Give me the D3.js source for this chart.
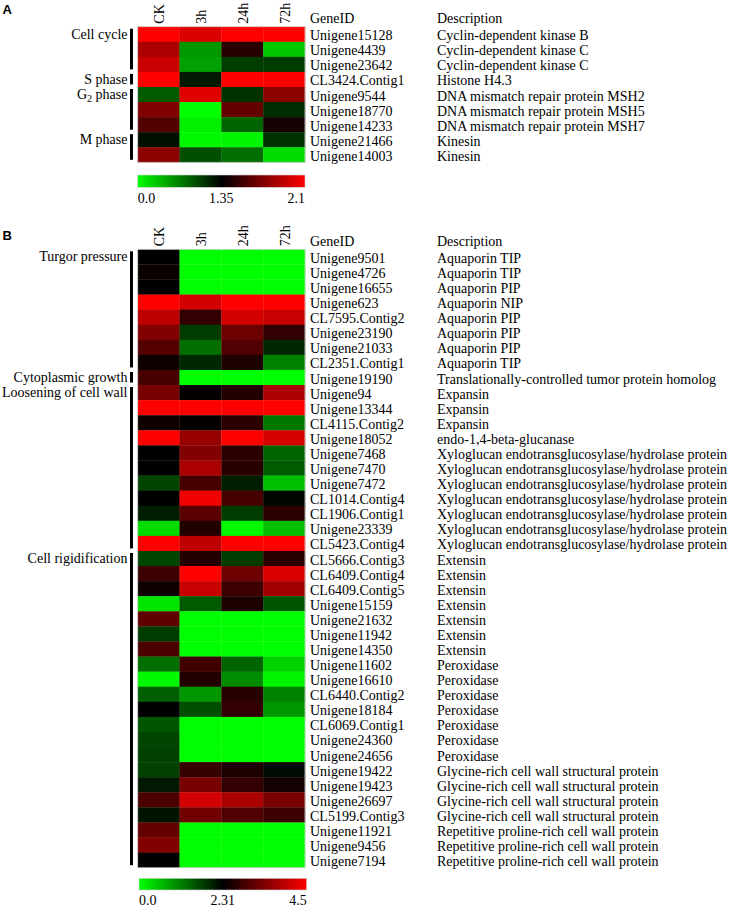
<!DOCTYPE html>
<html><head><meta charset="utf-8">
<script src="https://cdn.jsdelivr.net/npm/d3@7/dist/d3.min.js"></script>
<style>
body{margin:0;background:#fff}
svg text{font-family:"Liberation Serif","Times New Roman",serif;font-size:14px;fill:#000}
</style>
</head><body>
<svg id="chart" width="737" height="908"></svg>
<script>
// ---------------- DATA ----------------
const columns = ["CK", "3h", "24h", "72h"];

// Panel A
const geneIdsA = ["Unigene15128","Unigene4439","Unigene23642","CL3424.Contig1","Unigene9544","Unigene18770","Unigene14233","Unigene21466","Unigene14003"];
const descA = ["Cyclin-dependent kinase B","Cyclin-dependent kinase C","Cyclin-dependent kinase C","Histone H4.3","DNA mismatch repair protein MSH2","DNA mismatch repair protein MSH5","DNA mismatch repair protein MSH7","Kinesin","Kinesin"];
const valuesA = [
  [2.10, 2.00, 2.10, 2.10],
  [1.85, 0.55, 1.47, 0.29],
  [1.94, 0.50, 1.03, 1.03],
  [2.10, 1.22, 2.10, 2.10],
  [0.87, 2.01, 1.09, 1.76],
  [1.73, 0.00, 1.64, 1.11],
  [1.59, 0.08, 0.82, 1.41],
  [1.27, 0.03, 0.05, 1.09],
  [1.76, 0.93, 0.77, 0.19]
];
const groupNamesA = ["Cell cycle", "S phase", "G_2 phase", "M phase"];
const groupStartA = [0, 3, 4, 7];
const groupEndA   = [2, 3, 6, 8];
const scaleTicksA = [0.0, 1.35, 2.1];
const scaleLabelsA = ["0.0", "1.35", "2.1"];

// Panel B
const geneIdsB = ["Unigene9501","Unigene4726","Unigene16655","Unigene623","CL7595.Contig2","Unigene23190","Unigene21033","CL2351.Contig1","Unigene19190","Unigene94","Unigene13344","CL4115.Contig2","Unigene18052","Unigene7468","Unigene7470","Unigene7472","CL1014.Contig4","CL1906.Contig1","Unigene23339","CL5423.Contig4","CL5666.Contig3","CL6409.Contig4","CL6409.Contig5","Unigene15159","Unigene21632","Unigene11942","Unigene14350","Unigene11602","Unigene16610","CL6440.Contig2","Unigene18184","CL6069.Contig1","Unigene24360","Unigene24656","Unigene19422","Unigene19423","Unigene26697","CL5199.Contig3","Unigene11921","Unigene9456","Unigene7194"];
const descB = ["Aquaporin TIP","Aquaporin TIP","Aquaporin PIP","Aquaporin NIP","Aquaporin PIP","Aquaporin PIP","Aquaporin PIP","Aquaporin TIP","Translationally-controlled tumor protein homolog","Expansin","Expansin","Expansin","endo-1,4-beta-glucanase","Xyloglucan endotransglucosylase/hydrolase protein","Xyloglucan endotransglucosylase/hydrolase protein","Xyloglucan endotransglucosylase/hydrolase protein","Xyloglucan endotransglucosylase/hydrolase protein","Xyloglucan endotransglucosylase/hydrolase protein","Xyloglucan endotransglucosylase/hydrolase protein","Xyloglucan endotransglucosylase/hydrolase protein","Extensin","Extensin","Extensin","Extensin","Extensin","Extensin","Extensin","Peroxidase","Peroxidase","Peroxidase","Peroxidase","Peroxidase","Peroxidase","Peroxidase","Glycine-rich cell wall structural protein","Glycine-rich cell wall structural protein","Glycine-rich cell wall structural protein","Glycine-rich cell wall structural protein","Repetitive proline-rich cell wall protein","Repetitive proline-rich cell wall protein","Repetitive proline-rich cell wall protein"];
const valuesB = [
  [2.31, 0.00, 0.00, 0.00],
  [2.40, 0.00, 0.00, 0.00],
  [2.31, 0.00, 0.00, 0.00],
  [4.50, 4.11, 4.50, 4.50],
  [3.94, 2.74, 4.11, 4.03],
  [3.43, 1.77, 3.25, 2.74],
  [3.04, 1.31, 3.00, 1.95],
  [2.44, 1.95, 2.57, 1.13],
  [2.91, 0.00, 0.00, 0.00],
  [3.34, 2.35, 2.61, 3.77],
  [4.50, 4.50, 4.50, 4.50],
  [2.44, 2.35, 2.70, 1.22],
  [4.50, 3.60, 4.50, 4.15],
  [2.31, 3.43, 2.70, 1.40],
  [2.31, 3.77, 2.65, 1.49],
  [1.68, 2.91, 2.04, 0.59],
  [2.31, 4.37, 2.91, 2.24],
  [2.04, 3.08, 1.77, 2.70],
  [0.32, 2.61, 0.05, 0.59],
  [4.50, 3.94, 4.50, 4.50],
  [1.68, 2.61, 1.77, 2.65],
  [2.83, 4.50, 3.25, 4.20],
  [2.44, 4.03, 2.83, 3.68],
  [0.23, 1.49, 2.57, 1.54],
  [3.13, 0.00, 0.00, 0.00],
  [1.77, 0.00, 0.00, 0.00],
  [2.95, 0.00, 0.00, 0.00],
  [1.31, 2.87, 1.40, 0.41],
  [0.05, 2.61, 1.04, 0.09],
  [1.45, 0.95, 2.65, 1.13],
  [2.31, 1.59, 2.74, 0.95],
  [1.54, 0.00, 0.00, 0.00],
  [1.68, 0.00, 0.00, 0.00],
  [1.72, 0.00, 0.00, 0.00],
  [1.72, 2.78, 2.57, 2.22],
  [2.08, 3.34, 2.74, 2.48],
  [2.95, 4.11, 3.77, 3.34],
  [2.13, 3.30, 3.00, 2.83],
  [3.17, 0.00, 0.00, 0.00],
  [3.43, 0.00, 0.00, 0.00],
  [2.33, 0.00, 0.00, 0.00]
];
const groupNamesB = ["Turgor pressure", "Cytoplasmic growth", "Loosening of cell wall", "Cell rigidification"];
const groupStartB = [0, 8, 9, 20];
const groupEndB   = [7, 8, 19, 40];
const scaleTicksB = [0.0, 2.31, 4.5];
const scaleLabelsB = ["0.0", "2.31", "4.5"];

const colorStops = ["#00ff00", "#000000", "#ff0000"];

// ---------------- DRAW ----------------
const svg = d3.select("#chart");

function drawPanel(cfg) {
  const g = svg.append("g");
  const x = d3.scaleBand().domain(columns).range([cfg.x0, cfg.x1]);
  const y = d3.scaleBand().domain(d3.range(cfg.ids.length)).range([cfg.top, cfg.bottom]);
  const color = d3.scaleLinear().domain(cfg.ticks).range(colorStops).interpolate(d3.interpolateRgb).clamp(true);

  // panel letter
  g.append("text").attr("x", 2.5).attr("y", cfg.top - cfg.letterOff)
    .style("font-family", "'Liberation Sans', Arial, sans-serif").style("font-weight", "bold").style("font-size", "13px")
    .text(cfg.letter);

  // cells
  const cells = [];
  cfg.values.forEach((row, r) => row.forEach((v, c) => cells.push({r, c, v})));
  g.append("g").selectAll("rect").data(cells).join("rect")
    .attr("x", d => x(columns[d.c]))
    .attr("y", d => y(d.r))
    .attr("width", x.bandwidth() + 0.3)
    .attr("height", y.bandwidth() + 0.3)
    .attr("fill", d => color(d.v));
  g.append("rect").attr("x", cfg.x0).attr("y", cfg.top).attr("width", cfg.x1 - cfg.x0).attr("height", cfg.bottom - cfg.top)
    .attr("fill", "none").attr("stroke", "#cfcfcf").attr("stroke-width", 0.8);

  // column headers (rotated)
  g.append("g").selectAll("text").data(columns).join("text")
    .attr("transform", d => `translate(${x(d) + x.bandwidth() / 2 + 5.5},${cfg.top - 3}) rotate(-90)`)
    .attr("text-anchor", "start")
    .text(d => d);

  // headers
  g.append("text").attr("x", 310).attr("y", cfg.top - 3.5).text("GeneID");
  g.append("text").attr("x", 437).attr("y", cfg.top - 3.5).text("Description");

  // row labels
  g.append("g").selectAll("text").data(cfg.ids).join("text")
    .attr("x", 310).attr("y", (d, i) => y(i) + y.bandwidth() / 2 + 6).text(d => d);
  g.append("g").selectAll("text").data(cfg.desc).join("text")
    .attr("x", 437).attr("y", (d, i) => y(i) + y.bandwidth() / 2 + 6).text(d => d);

  // groups
  cfg.groups.forEach((name, i) => {
    const gt = y(cfg.gStart[i]);
    const gb = y(cfg.gEnd[i]) + y.bandwidth();
    g.append("rect").attr("x", 130).attr("width", 3)
      .attr("y", gt + 2).attr("height", gb - gt - 4.5).attr("fill", "#000");
    const t = g.append("text").attr("x", 127.5).attr("y", gt + 12).attr("text-anchor", "end");
    const parts = name.split("_");
    if (parts.length === 1) {
      t.text(name);
    } else {
      t.append("tspan").text(parts[0]);
      t.append("tspan").attr("dy", 3).style("font-size", "10px").text(parts[1][0]);
      t.append("tspan").attr("dy", -3).text(parts[1].slice(1));
    }
  });

  // color bar
  const gid = "grad" + cfg.letter;
  const grad = svg.append("defs").append("linearGradient").attr("id", gid)
    .attr("x1", "0%").attr("x2", "100%").attr("y1", "0%").attr("y2", "0%");
  const cx = d3.scaleLinear().domain(cfg.ticks).range([cfg.cb.x0, (cfg.cb.x0 + cfg.cb.x1) / 2, cfg.cb.x1]);
  d3.range(0, 1.0001, 0.05).forEach(f => {
    const px = cfg.cb.x0 + f * (cfg.cb.x1 - cfg.cb.x0);
    grad.append("stop").attr("offset", (f * 100) + "%").attr("stop-color", color(cx.invert(px)));
  });
  g.append("rect").attr("x", cfg.cb.x0).attr("y", cfg.cb.y0)
    .attr("width", cfg.cb.x1 - cfg.cb.x0).attr("height", cfg.cb.y1 - cfg.cb.y0)
    .attr("fill", `url(#${gid})`).attr("stroke", "#d0d0d0").attr("stroke-width", 0.6);
  const anchors = ["start", "middle", "end"];
  g.append("g").selectAll("text").data(cfg.ticks).join("text")
    .attr("x", d => cx(d)).attr("y", cfg.cb.labelY)
    .attr("text-anchor", (d, i) => anchors[i])
    .text((d, i) => cfg.tickLabels[i]);
}

drawPanel({
  letter: "A", ids: geneIdsA, desc: descA, values: valuesA,
  groups: groupNamesA, gStart: groupStartA, gEnd: groupEndA,
  ticks: scaleTicksA, tickLabels: scaleLabelsA,
  x0: 137.7, x1: 305, top: 26.7, bottom: 162.3, letterOff: 12.5,
  cb: {x0: 137.7, x1: 305, y0: 175, y1: 187.3, labelY: 202.5}
});
drawPanel({
  letter: "B", ids: geneIdsB, desc: descB, values: valuesB,
  groups: groupNamesB, gStart: groupStartB, gEnd: groupEndB,
  ticks: scaleTicksB, tickLabels: scaleLabelsB,
  x0: 137.7, x1: 305, top: 249.3, bottom: 867.7, letterOff: 9.5,
  cb: {x0: 139, x1: 306.7, y0: 878.3, y1: 890, labelY: 905}
});
</script>
</body></html>
